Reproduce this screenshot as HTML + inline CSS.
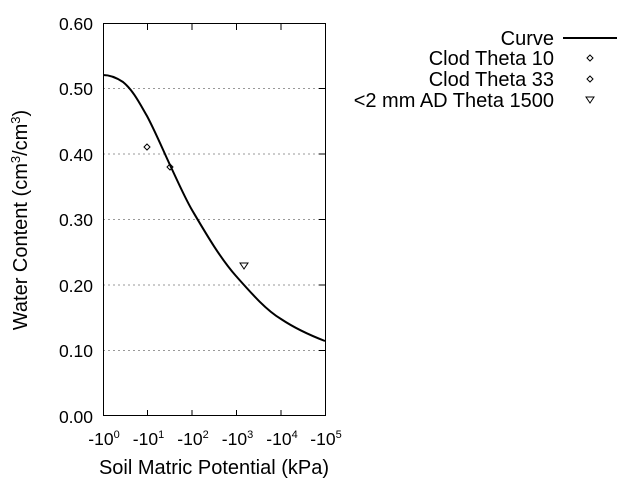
<!DOCTYPE html>
<html><head><style>body{margin:0;background:#fff}svg{display:block}</style></head><body>
<svg width="640" height="480" xmlns="http://www.w3.org/2000/svg" font-family="Liberation Sans, sans-serif">
<g stroke="#999" stroke-dasharray="2,3" stroke-width="1">
<line x1="103" y1="88.5" x2="325" y2="88.5"/><line x1="103" y1="154" x2="325" y2="154"/><line x1="103" y1="219.5" x2="325" y2="219.5"/><line x1="103" y1="285" x2="325" y2="285"/><line x1="103" y1="350.5" x2="325" y2="350.5"/>
</g>
<rect x="103.5" y="23.5" width="222" height="392" fill="none" stroke="#000"/>
<g stroke="#000">
<line x1="147.5" y1="24" x2="147.5" y2="30"/><line x1="192" y1="24" x2="192" y2="30"/><line x1="236.5" y1="24" x2="236.5" y2="30"/><line x1="281" y1="24" x2="281" y2="30"/>
<line x1="147.5" y1="416" x2="147.5" y2="410"/><line x1="192" y1="416" x2="192" y2="410"/><line x1="236.5" y1="416" x2="236.5" y2="410"/><line x1="281" y1="416" x2="281" y2="410"/>
<line x1="319" y1="88.5" x2="325" y2="88.5"/><line x1="319" y1="154" x2="325" y2="154"/><line x1="319" y1="219.5" x2="325" y2="219.5"/><line x1="319" y1="285" x2="325" y2="285"/><line x1="319" y1="350.5" x2="325" y2="350.5"/>
</g>
<g font-size="17.5" text-anchor="end">
<text x="93" y="30">0.60</text><text x="93" y="95">0.50</text><text x="93" y="161">0.40</text><text x="93" y="226">0.30</text><text x="93" y="292">0.20</text><text x="93" y="357">0.10</text><text x="93" y="423">0.00</text>
</g>
<g font-size="17.5" text-anchor="middle">
<text x="104" y="445">-10<tspan font-size="11" dy="-7">0</tspan></text>
<text x="148.5" y="445">-10<tspan font-size="11" dy="-7">1</tspan></text>
<text x="193" y="445">-10<tspan font-size="11" dy="-7">2</tspan></text>
<text x="237.5" y="445">-10<tspan font-size="11" dy="-7">3</tspan></text>
<text x="282" y="445">-10<tspan font-size="11" dy="-7">4</tspan></text>
<text x="326" y="445">-10<tspan font-size="11" dy="-7">5</tspan></text>
</g>
<text x="214" y="474" font-size="20" text-anchor="middle">Soil Matric Potential (kPa)</text>
<text transform="translate(27,220) rotate(-90)" font-size="20" text-anchor="middle">Water Content (cm<tspan font-size="13" dy="-7">3</tspan><tspan dy="7">/cm</tspan><tspan font-size="13" dy="-7">3</tspan><tspan dy="7">)</tspan></text>
<path d="M103,75 C110,75 117,78 123,82 C133,90 140,104 147,116 C155,131 163,150 170,165 C178,182 185,198 192,210 C205,232 220,258 236,276 C252,294 266,310 281,319 C296,329 312,336 325,341" fill="none" stroke="#000" stroke-width="2"/>
<g fill="none" stroke="#000" stroke-width="1">
<path d="M147,144 L150,147 L147,150 L144,147 Z"/>
<path d="M170,164 L173,167 L170,170 L167,167 Z"/>
<path d="M240,263 L248,263 L244,269 Z"/>
<path d="M590,55 L593,58 L590,61 L587,58 Z"/>
<path d="M590,76 L593,79 L590,82 L587,79 Z"/>
<path d="M586,97 L594,97 L590,103 Z"/>
</g>
<line x1="563" y1="38" x2="617" y2="38" stroke="#000" stroke-width="2"/>
<g font-size="20" text-anchor="end">
<text x="554" y="45">Curve</text><text x="554" y="65">Clod Theta 10</text><text x="554" y="86">Clod Theta 33</text><text x="554" y="107">&lt;2 mm AD Theta 1500</text>
</g>
</svg>
</body></html>
